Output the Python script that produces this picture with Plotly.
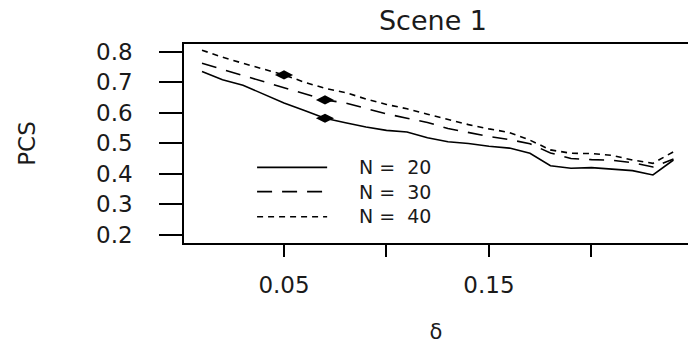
import plotly.graph_objects as go

# delta grid and PCS curves for three sample sizes
delta = [0.01, 0.02, 0.03, 0.04, 0.05, 0.06, 0.07, 0.08, 0.09, 0.10, 0.11, 0.12,
         0.13, 0.14, 0.15, 0.16, 0.17, 0.18, 0.19, 0.20, 0.21, 0.22, 0.23, 0.24]

pcs_n20 = [0.735, 0.708, 0.690, 0.662, 0.632, 0.607, 0.582, 0.567, 0.553, 0.542, 0.537, 0.518,
           0.505, 0.499, 0.490, 0.484, 0.467, 0.426, 0.418, 0.420, 0.415, 0.410, 0.396, 0.445]
pcs_n30 = [0.762, 0.742, 0.722, 0.702, 0.683, 0.662, 0.642, 0.632, 0.615, 0.596, 0.582, 0.568,
           0.548, 0.535, 0.522, 0.512, 0.498, 0.468, 0.450, 0.446, 0.444, 0.436, 0.422, 0.448]
pcs_n40 = [0.805, 0.782, 0.762, 0.742, 0.724, 0.700, 0.680, 0.666, 0.645, 0.627, 0.613, 0.595,
           0.578, 0.561, 0.547, 0.535, 0.510, 0.478, 0.467, 0.466, 0.460, 0.445, 0.434, 0.472]

series_names = ["N =  20", "N =  30", "N =  40"]
series_values = [pcs_n20, pcs_n30, pcs_n40]
series_dash = ["solid", "15px,10px", "6px,5px"]

# highlighted delta for each curve
highlight_delta = [0.07, 0.07, 0.05]

x_tickvals = [0.05, 0.10, 0.15, 0.20]
x_ticktext = ["0.05", "", "0.15", ""]
y_tickvals = [0.2, 0.3, 0.4, 0.5, 0.6, 0.7, 0.8]
y_ticktext = ["0.2", "0.3", "0.4", "0.5", "0.6", "0.7", "0.8"]

FONT = "DejaVu Sans"
INK = "#1a1a1a"

fig = go.Figure()

for name, vals, dash in zip(series_names, series_values, series_dash):
    fig.add_trace(go.Scatter(
        x=delta, y=vals, mode="lines", name=name,
        line=dict(color="black", width=1.6, dash=dash),
        showlegend=False,
    ))

# filled diamonds on each curve
for vals, hd in zip(series_values, highlight_delta):
    i = delta.index(hd)
    fig.add_trace(go.Scatter(
        x=[delta[i]], y=[vals[i]], mode="markers", showlegend=False,
        marker=dict(symbol="diamond-wide", size=13, color="black"),
    ))

# y tick labels set well clear of the long outside ticks
for val, txt in zip(y_tickvals, y_ticktext):
    fig.add_annotation(xref="paper", yref="y", x=-49 / 504, y=val, text=txt,
                       showarrow=False, xanchor="right", yanchor="middle",
                       font=dict(family=FONT, size=23, color=INK))

# legend drawn inside the plot area: sample lines + one stacked label block
legend_rows = [0.380, 0.258, 0.132]
for dash, yr in zip(series_dash, legend_rows):
    fig.add_shape(type="line", xref="x domain", yref="y domain",
                  x0=0.145, x1=0.284, y0=yr, y1=yr,
                  line=dict(color="black", width=1.6, dash=dash))
fig.add_annotation(xref="x domain", yref="y domain", x=0.345, y=legend_rows[1],
                   text="<br>".join(series_names), showarrow=False, align="left",
                   xanchor="left", yanchor="middle", borderpad=0,
                   font=dict(family=FONT, size=19, color=INK))

fig.update_layout(
    width=688, height=344,
    margin=dict(l=184, r=0, t=44, b=101, autoexpand=False),
    paper_bgcolor="white", plot_bgcolor="white",
    title=dict(text="Scene 1", x=433 / 688, xanchor="center", y=1 - 21 / 344, yanchor="middle",
               font=dict(family=FONT, size=27, color=INK)),
    xaxis=dict(
        range=[0.00122, 0.2471], tickvals=x_tickvals, ticktext=x_ticktext,
        ticks="outside", ticklen=12, tickwidth=2, tickcolor="black",
        showline=True, mirror=True, linewidth=2, linecolor="black",
        showgrid=False, zeroline=False, ticklabelstandoff=8, automargin=False,
        tickfont=dict(family=FONT, size=23, color=INK),
        title=dict(text="δ", standoff=34, font=dict(family=FONT, size=21, color=INK)),
    ),
    yaxis=dict(
        range=[0.17279, 0.82525], tickvals=y_tickvals, showticklabels=False,
        ticks="outside", ticklen=23, tickwidth=2, tickcolor="black",
        showline=True, linewidth=2, linecolor="black", automargin=False,
        showgrid=False, zeroline=False,
        title=dict(text="PCS", standoff=117, font=dict(family=FONT, size=23, color=INK)),
    ),
)

fig.write_html("out.html")
